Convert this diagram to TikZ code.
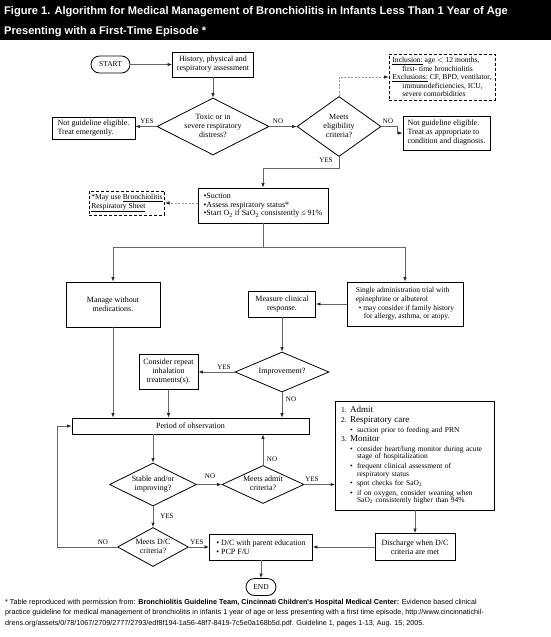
\documentclass[tikz,border=0pt]{standalone}
\usepackage{fontspec}
\setmainfont{Liberation Serif}
\newfontfamily\sansf{Liberation Sans}
\usetikzlibrary{shapes.geometric,shapes.misc,arrows.meta}
\newcommand\fA{\fontsize{8}{9}\selectfont}
\newcommand\fB{\fontsize{7.6}{8.6}\selectfont}
\newcommand\fL{\fontsize{7}{8}\selectfont}
\newcommand\fS{\fontsize{7.5}{8}\selectfont}
\newcommand\fH{\fontsize{9}{9.6}\selectfont}
\newcommand\dt[1]{\makebox[0pt]{\begin{tabular}{@{}c@{}}#1\end{tabular}}}
\begin{document}
\begin{tikzpicture}[x=1pt,y=-1pt,
  box/.style={draw=black, line width=0.8pt, inner sep=2pt, font=\fA},
  dia/.style={diamond, draw=black, line width=0.8pt, inner sep=0pt, font=\fA},
  term/.style={rounded rectangle, draw=black, line width=0.8pt, font=\fS, inner sep=1pt},
  conn/.style={draw=black!60, line width=0.8pt},
  arr/.style={conn, -{Latex[length=4.5pt,width=3.5pt,color=black!85]}},
  dotarr/.style={draw=black!40, line width=0.8pt, dash pattern=on 2pt off 1.5pt, -{Latex[length=4.5pt,width=3.5pt,color=black!85]}},
  lab/.style={font=\fL, inner sep=1pt},
  dbox/.style={draw=black, line width=0.8pt, dash pattern=on 3pt off 2pt, inner sep=2pt, font=\fB},
]
\useasboundingbox (0,0) rectangle (551,637);
\fill[white] (0,0) rectangle (551,637);
\fill[black] (0,0) rectangle (551,40);
\node[anchor=west, text=white, font=\sansf\bfseries\fontsize{11.1}{13}\selectfont, inner sep=0] (t1) at (4,12) {Figure 1. Algorithm for Medical Management of Bronchiolitis in Infants Less Than 1 Year of Age};
\node[anchor=west, text=white, font=\sansf\bfseries\fontsize{11.1}{13}\selectfont, inner sep=0] (t2) at (4,32) {Presenting with a First-Time Episode *};

% nodes
\node[term, minimum width=41, minimum height=17] (start) at (110.5,64.5) {START};
\node[box, minimum width=81, minimum height=25, align=center] (hist) at (213,64.5) {History, physical and\\respiratory assessment};
\node[dia, minimum width=112, minimum height=57] (toxic) at (213,126.5) {\dt{Toxic or in\\severe respiratory\\distress?}};
\node[box, minimum width=83, minimum height=22, align=left] (ne1) at (93.5,128) {Not guideline eligible.\\Treat emergently.};
\node[dia, minimum width=84, minimum height=60] (elig) at (339,126.5) {\dt{Meets\\eligibility\\criteria?}};
\node[dbox, minimum width=106, minimum height=46, align=left] (incl) at (442,77) {\underline{Inclusion:} age $<$ 12 months,\\\hspace*{10pt}first- time bronchiolitis\\\underline{Exclusions:} CF, BPD, ventilator,\\\hspace*{10pt}immunodeficiencies, ICU,\\\hspace*{10pt}severe comorbidities};
\node[box, minimum width=87, minimum height=34, align=left] (ne2) at (446.5,133) {Not guideline eligible.\\Treat as appropriate to\\condition and diagnosis.};
\node[box, minimum width=130, minimum height=35, align=left, font=\fontsize{8}{8.6}\selectfont] (suct) at (263,205.5) {\textbullet Suction\\\textbullet Assess respiratory status*\\\textbullet Start O\textsubscript{2} if SaO\textsubscript{2} consistently ≤ 91\%};
\node[dbox, minimum height=22, inner ysep=3pt, align=left, anchor=east, font=\fontsize{7.6}{9}\selectfont] (may) at (165,203) {*May use \underline{Bronchiolitis}\\\underline{Respiratory Sheet}};
\coordinate (split) at (263,247);
\node[box, minimum width=94, minimum height=45, align=center] (manage) at (113,304.5) {Manage without\\medications.};
\node[box, minimum width=116, minimum height=44, align=left, font=\fontsize{7.5}{8.6}\selectfont] (single) at (405,304) {Single administration trial with\\epinephrine or albuterol\\\hspace*{3pt}\textbullet\ may consider if family history\\\hspace*{8pt}for allergy, asthma, or atopy.};
\node[box, minimum width=67, minimum height=26, align=center] (meas) at (282,304) {Measure clinical\\response.};
\node[dia, minimum width=94, minimum height=40] (impr) at (282,372) {\dt{Improvement?}};
\node[box, minimum width=59, minimum height=35, align=center] (cons) at (168.5,372) {Consider repeat\\inhalation\\treatments(s).};
\node[box, minimum width=237, minimum height=16] (period) at (190.5,426) {Period of observation};
\node[dia, minimum width=87, minimum height=43] (stable) at (153,484.5) {\dt{Stable and/or\\improving?}};
\node[dia, minimum width=82, minimum height=38] (admq) at (263,484.5) {\dt{Meets admit\\criteria?}};
\node[box, minimum width=159, minimum height=109, text width=148, inner xsep=5.5pt, align=left, font=\fontsize{7.5}{9.6}\selectfont] (admit) at (415,455.5) {%
\makebox[9pt][l]{1.}{\fH Admit}\\
\makebox[9pt][l]{2.}{\fH Respiratory care}\\
\hspace*{9pt}\makebox[7pt][l]{\textbullet}suction prior to feeding and PRN\\
\makebox[9pt][l]{3.}{\fH Monitor}\\
\hspace*{9pt}\makebox[7pt][l]{\textbullet}consider heart/lung monitor during acute\\[-2pt]
\hspace*{16pt}stage of hospitalization\\
\hspace*{9pt}\makebox[7pt][l]{\textbullet}frequent clinical assessment of\\[-2pt]
\hspace*{16pt}respiratory status\\
\hspace*{9pt}\makebox[7pt][l]{\textbullet}spot checks for SaO\textsubscript{2}\\
\hspace*{9pt}\makebox[7pt][l]{\textbullet}if on oxygen, consider weaning when\\[-2pt]
\hspace*{16pt}SaO\textsubscript{2} consistently higher than 94\%};
\node[box, minimum width=80, minimum height=27, align=center] (disch) at (415,547) {Discharge when D/C\\criteria are met};
\node[box, minimum width=103, minimum height=26, align=left] (dc) at (261,547) {\textbullet\ D/C with parent education\\\textbullet\ PCP F/U};
\node[dia, minimum width=71, minimum height=39] (dcq) at (153,547) {\dt{Meets D/C\\criteria?}};
\node[term, minimum width=32, minimum height=17] (end) at (261,587) {END};

% labels
\node[lab] (l1) at (147,121) {YES};
\node[lab] (l2) at (278,121) {NO};
\node[lab] (l3) at (388,121) {NO};
\node[lab] (l4) at (326,160) {YES};
\node[lab] (l5) at (224,367) {YES};
\node[lab] (l6) at (291,399) {NO};
\node[lab] (l7) at (210,476) {NO};
\node[lab] (l8) at (272,459) {NO};
\node[lab] (l9) at (312,479) {YES};
\node[lab] (l10) at (167,516) {YES};
\node[lab] (l11) at (197,542) {YES};
\node[lab] (l12) at (103,542) {NO};

% connectors
\draw[arr] (start) -- (hist);
\draw[arr] (hist) -- (toxic);
\draw[arr] (toxic.west) -- (toxic.west -| ne1.east);
\draw[arr] (toxic.east) -- (elig.west);
\draw[dotarr] (elig.north) |- (incl.west);
\draw[arr] (elig.east) -- ++(16,0) |- (ne2.west);
\draw[arr] (elig.south) -- ++(0,11) -| (suct.north);
\draw[dotarr] (suct.west |- may.east) -- (may.east);
\draw[conn] (suct.south) -- (split);
\draw[arr] (split) -| (manage.north);
\draw[arr] (split) -| (single.north);
\draw[arr] (single.west) -- (meas.east);
\draw[arr] (meas.south) -- (impr.north);
\draw[arr] (impr.west) -- (cons.east);
\draw[arr] (impr.south) -- (impr.south |- period.north);
\draw[arr] (manage.south) -- (manage.south |- period.north);
\draw[arr] (cons.south) -- (cons.south |- period.north);
\draw[arr] (stable.north |- period.south) -- (stable.north);
\draw[arr] (stable.east) -- (admq.west);
\draw[arr] (admq.north) -- (admq.north |- period.south);
\draw[arr] (admq.east) -- (admq.east -| admit.west);
\draw[arr] (admit.south) -- (disch.north);
\draw[arr] (disch.west) -- (dc.east);
\draw[arr] (stable.south) -- (dcq.north);
\draw[arr] (dcq.east) -- (dc.west);
\draw[arr] (dcq.west) -- ++(-60,0) |- (period.west);
\draw[arr] (dc.south) -- (end.north);

% footnote
\node[anchor=north west, align=left, inner sep=0, font=\sansf\fontsize{7.2}{10.5}\selectfont] (foot) at (5,599) {* Table reproduced with permission from: \textbf{Bronchiolitis Guideline Team, Cincinnati Children's Hospital Medical Center:} Evidence based clinical\\practice guideline for medical management of bronchiolitis in infants 1 year of age or less presenting with a first time episode, http://www.cincinnatichil-\\drens.org/assets/0/78/1067/2709/2777/2793/edf8f194-1a56-48f7-8419-7c5e0a168b5d.pdf. Guideline 1, pages 1-13, Aug. 15, 2005.};
\end{tikzpicture}
\end{document}
